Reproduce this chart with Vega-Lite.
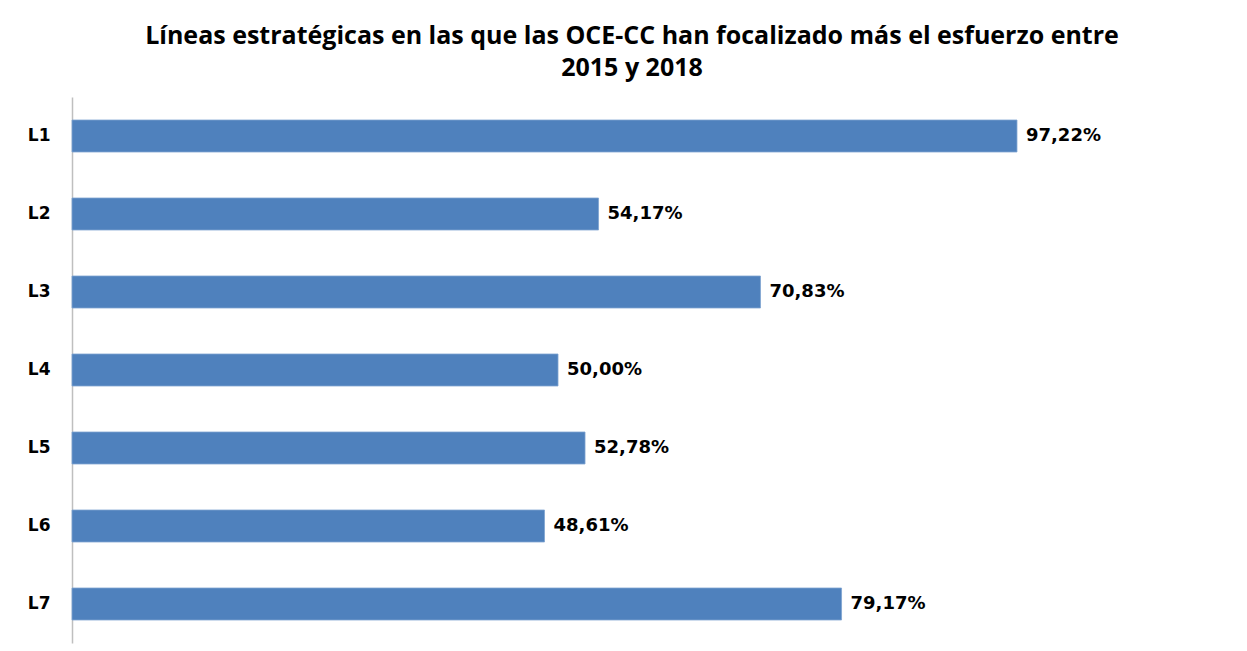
{
  "$schema": "https://vega.github.io/schema/vega-lite/v6.json",
  "autosize": {"type": "none"},
  "padding": {"left": 72, "top": 97, "right": 203, "bottom": 8},
  "width": 972,
  "height": 546,
  "background": "white",
  "config": {
    "view": {"stroke": null},
    "locale": {"number": {"decimal": ",", "thousands": ".", "grouping": [3], "currency": ["", " €"]}}
  },
  "title": {
    "text": ["Líneas estratégicas en las que las OCE-CC han focalizado más el esfuerzo entre", "2015 y 2018"],
    "font": "Open Sans",
    "fontSize": 25,
    "fontWeight": "bold",
    "color": "#000000",
    "anchor": "middle",
    "dx": 74,
    "offset": 16,
    "lineHeight": 32
  },
  "data": {
    "values": [
      {"linea": "L1", "valor": 0.9722},
      {"linea": "L2", "valor": 0.5417},
      {"linea": "L3", "valor": 0.7083},
      {"linea": "L4", "valor": 0.5000},
      {"linea": "L5", "valor": 0.5278},
      {"linea": "L6", "valor": 0.4861},
      {"linea": "L7", "valor": 0.7917}
    ]
  },
  "encoding": {
    "y": {
      "field": "linea",
      "type": "nominal",
      "sort": null,
      "scale": {"paddingInner": 0.59, "paddingOuter": 0.295},
      "axis": {
        "title": null,
        "ticks": false,
        "domainColor": "#BFBFBF",
        "domainWidth": 1.5,
        "labelFont": "DejaVu Sans",
        "labelFontWeight": "bold",
        "labelFontSize": 17,
        "labelColor": "#000000",
        "labelPadding": 22
      }
    },
    "x": {
      "field": "valor",
      "type": "quantitative",
      "scale": {"domain": [0, 1]},
      "axis": null
    }
  },
  "layer": [
    {"mark": {"type": "bar", "color": "#4F81BD", "stroke": "#7FA3D0", "strokeWidth": 0.8}},
    {
      "mark": {"type": "text", "align": "left", "baseline": "middle", "dx": 9, "font": "DejaVu Sans", "fontWeight": "bold", "fontSize": 18, "color": "#000000"},
      "encoding": {"text": {"field": "valor", "type": "quantitative", "format": ".2%"}}
    }
  ]
}
